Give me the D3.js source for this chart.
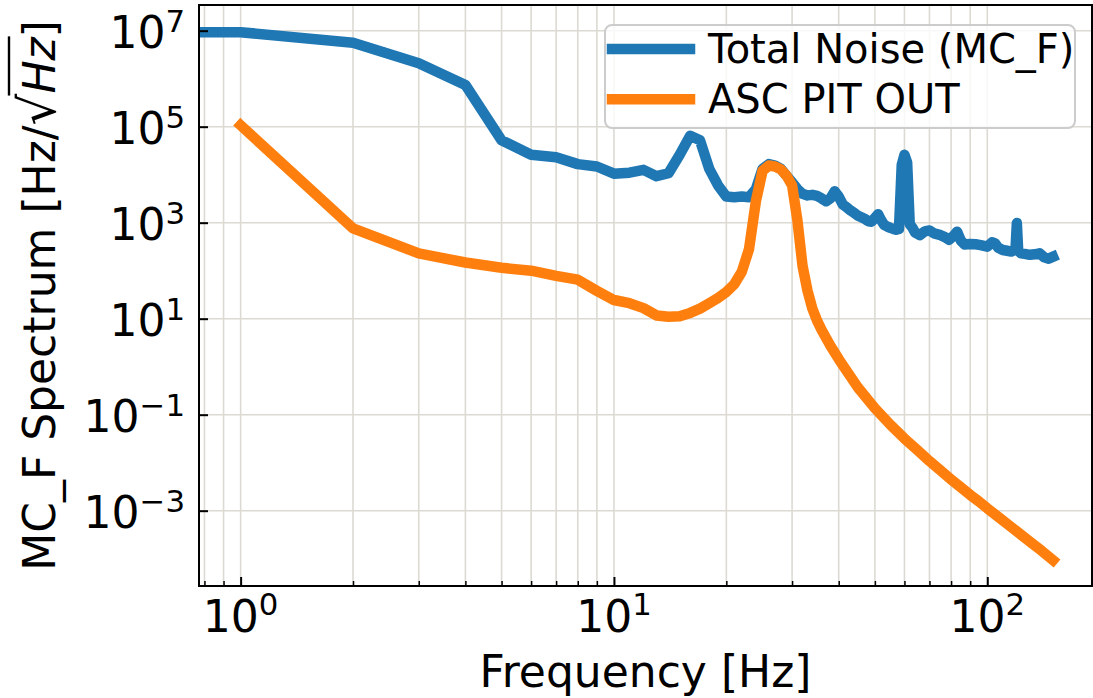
<!DOCTYPE html>
<html>
<head>
<meta charset="utf-8">
<script src="https://cdn.jsdelivr.net/npm/d3@7"></script>
<style>
    body { margin: 0; background: #fff; }
    text { font-family: "DejaVu Sans", sans-serif; fill: #000; }
</style>
</head>
<body>
<div id="container"></div>
<script>
// ---------------------------------------------------------------------
// Data
const noiseFreq = [0.5, 1, 2, 3, 4, 5, 6, 7, 8, 9, 10, 11, 12, 13, 14, 15, 16, 17, 18, 19,
    20, 21, 22, 23, 24, 25, 26, 27, 28, 29, 30, 31, 32, 33, 34, 35, 36, 37, 38, 39,
    40, 41, 42, 43, 44, 45, 46, 47, 48, 49, 50, 51, 52, 53, 54, 55, 56, 57, 58, 59,
    60, 61, 62, 63, 64, 66, 68, 70, 72, 75, 77, 79, 81, 83, 85, 87, 90, 93, 96, 100,
    103, 105, 107, 110, 113, 116, 119, 120, 121, 123, 126, 130, 134, 138, 142, 146, 150];
const noiseAmp = [9.3e6, 9.3e6, 5.6e6, 2.1e6, 7.4e5, 5.2e4, 2.6e4, 2.3e4, 1.66e4, 1.48e4,
    1.05e4, 1.1e4, 1.26e4, 9.3e3, 1.07e4, 2.6e4, 6.5e4, 5.2e4, 1.32e4, 6.0e3,
    3.5e3, 3.4e3, 3.5e3, 3.4e3, 5.0e3, 1.32e4, 1.66e4, 1.55e4, 1.32e4, 9.5e3,
    6.9e3, 5.0e3, 4.0e3, 3.7e3, 3.8e3, 3.6e3, 3.2e3, 2.8e3, 3.2e3, 4.5e3,
    3.5e3, 2.4e3, 2.1e3, 1.8e3, 1.6e3, 1.4e3, 1.3e3, 1.2e3, 1.07e3, 1.05e3,
    1.26e3, 1.5e3, 1.12e3, 890, 830, 780, 740, 710, 740, 1.6e4,
    2.6e4, 1.8e4, 930, 790, 630, 550, 660, 690, 600, 550, 500, 440, 520, 650, 420, 350,
    360, 355, 340, 316, 390, 370, 300, 270, 260, 250, 275, 980, 260, 230, 224, 214,
    219, 230, 190, 178, 195];

const ascFreq = [1, 2, 3, 4, 5, 6, 7, 8, 9, 10, 11, 12, 13, 14, 15, 16, 17, 18, 19, 20,
    21, 22, 23, 24, 25, 26, 27, 28, 29, 30, 31, 32, 33, 34, 35, 36, 38, 40, 42, 45,
    50, 55, 60, 65, 70, 75, 80, 85, 90, 95, 100, 110, 120, 130, 140, 150];
const ascAmp = [1.07e5, 760, 230, 148, 115, 100, 78, 65, 38, 24.5, 21, 16.6, 11.7, 11, 11.2,
    13.2, 16.2, 21, 27, 36, 52, 95, 280, 2.8e3, 1.2e4, 1.55e4, 1.48e4, 1.29e4, 9.5e3, 6.0e3,
    1.12e3, 126, 38, 16.2, 9.1, 5.8, 2.73, 1.44, 0.82, 0.37,
    0.136, 0.0617, 0.0318, 0.0182, 0.0108, 0.00685, 0.00448, 0.00305, 0.00213, 0.00156,
    0.00112, 6.27e-4, 3.69e-4, 2.26e-4, 1.45e-4, 9.3e-5];

const seriesNames = ["Total Noise (MC_F)", "ASC PIT OUT"];
const seriesColors = ["#1f77b4", "#ff7f0e"];
const xTicks = [1, 10, 100];
const yTicks = [1e-3, 1e-1, 1e1, 1e3, 1e5, 1e7];
const xLabel = "Frequency [Hz]";

// ---------------------------------------------------------------------
// Chart
const width = 1093;
const height = 698;
const marginTop = 5;
const marginRight = 1;
const marginBottom = 112;
const marginLeft = 199;

// Declare the log scales (limits as in the picture).
const x = d3.scaleLog()
    .domain([Math.pow(10, -0.1115), Math.pow(10, 2.2805)])
    .range([marginLeft, width - marginRight]);
const y = d3.scaleLog()
    .domain([Math.pow(10, -4.569), Math.pow(10, 7.535)])
    .range([height - marginBottom, marginTop]);

const svg = d3.create("svg")
    .attr("width", width)
    .attr("height", height)
    .attr("viewBox", `0 0 ${width} ${height}`);

svg.append("defs").append("clipPath")
    .attr("id", "plotClip")
    .append("rect")
    .attr("x", marginLeft)
    .attr("y", marginTop)
    .attr("width", width - marginLeft - marginRight)
    .attr("height", height - marginTop - marginBottom);

// Grid: vertical on every x tick (major+minor), horizontal on labelled y ticks.
const xAll = x.ticks();
const xMinor = xAll.filter(d => !xTicks.includes(d));
const gridColor = "#dcdad2";

svg.append("g")
    .selectAll("line")
    .data(xAll)
    .join("line")
    .attr("x1", d => x(d)).attr("x2", d => x(d))
    .attr("y1", marginTop).attr("y2", height - marginBottom)
    .attr("stroke", gridColor)
    .attr("stroke-width", 1.6);

svg.append("g")
    .selectAll("line")
    .data(yTicks)
    .join("line")
    .attr("x1", marginLeft).attr("x2", width - marginRight)
    .attr("y1", d => y(d)).attr("y2", d => y(d))
    .attr("stroke", gridColor)
    .attr("stroke-width", 1.6);

// Series lines
const line = d3.line()
    .x(d => x(d[0]))
    .y(d => y(d[1]));

const series = [
    d3.zip(noiseFreq, noiseAmp),
    d3.zip(ascFreq, ascAmp),
];

svg.append("g")
    .attr("clip-path", "url(#plotClip)")
    .selectAll("path")
    .data(series)
    .join("path")
    .attr("fill", "none")
    .attr("stroke", (d, i) => seriesColors[i])
    .attr("stroke-width", 10.5)
    .attr("stroke-linejoin", "round")
    .attr("stroke-linecap", "square")
    .attr("d", line);

// Axes box
svg.append("rect")
    .attr("x", marginLeft)
    .attr("y", marginTop)
    .attr("width", width - marginLeft - marginRight)
    .attr("height", height - marginTop - marginBottom)
    .attr("fill", "none")
    .attr("stroke", "#000")
    .attr("stroke-width", 2);

// Ticks (pointing inwards)
const xAxis = svg.append("g")
    .attr("transform", `translate(0,${height - marginBottom})`)
    .call(d3.axisBottom(x).tickValues(xTicks).tickSize(-9).tickFormat(""));
const xAxisMinor = svg.append("g")
    .attr("transform", `translate(0,${height - marginBottom})`)
    .call(d3.axisBottom(x).tickValues(xMinor).tickSize(-5).tickFormat(""));
const yAxis = svg.append("g")
    .attr("transform", `translate(${marginLeft},0)`)
    .call(d3.axisLeft(y).tickValues(yTicks).tickSize(-9).tickFormat(""));

[xAxis, xAxisMinor, yAxis].forEach(g => {
    g.select(".domain").remove();
    g.selectAll(".tick line").attr("stroke", "#000").attr("stroke-width", 2);
});
xAxisMinor.selectAll(".tick line").attr("stroke-width", 1.5);

// Power-of-ten tick labels
const exponent = d => {
    const e = Math.round(Math.log10(d));
    return e < 0 ? "\u2212" + (-e) : String(e);
};
const tickFont = 44;

function powerLabel(sel) {
    sel.append("tspan").text("10");
    sel.append("tspan")
        .attr("font-size", tickFont * 0.7)
        .attr("dy", -16.6)
        .text(d => exponent(d));
}

svg.append("g")
    .selectAll("text")
    .data(xTicks)
    .join("text")
    .attr("x", d => x(d))
    .attr("y", 631.7)
    .attr("text-anchor", "middle")
    .attr("font-size", tickFont)
    .call(powerLabel);

svg.append("g")
    .selectAll("text")
    .data(yTicks)
    .join("text")
    .attr("x", marginLeft - 14)
    .attr("y", d => y(d) + 17.5)
    .attr("text-anchor", "end")
    .attr("font-size", tickFont)
    .call(powerLabel);

// Axis labels
svg.append("text")
    .attr("x", (marginLeft + width - marginRight) / 2)
    .attr("y", 687)
    .attr("text-anchor", "middle")
    .attr("font-size", 44)
    .text(xLabel);

const yLabelG = svg.append("g")
    .attr("transform", `translate(55,${(marginTop + height - marginBottom) / 2}) rotate(-90)`);
const yLabel = yLabelG.append("text")
    .attr("text-anchor", "middle")
    .attr("font-size", 44);
yLabel.append("tspan").text("MC_F Spectrum [Hz/");
yLabel.append("tspan").attr("font-size", 50).text("\u221A");
yLabel.append("tspan").attr("font-style", "italic").text("Hz");
yLabel.append("tspan").text("]");

// Legend
const legend = svg.append("g");
legend.append("rect")
    .attr("x", 605).attr("y", 25)
    .attr("width", 470).attr("height", 103)
    .attr("rx", 7)
    .attr("fill", "#fff").attr("fill-opacity", 0.8)
    .attr("stroke", "#cccccc").attr("stroke-width", 2);

const rows = legend.selectAll("g.row")
    .data(seriesNames)
    .join("g")
    .attr("class", "row")
    .attr("transform", (d, i) => `translate(0,${49 + i * 50.3})`);
rows.append("line")
    .attr("x1", 612).attr("x2", 690)
    .attr("stroke", (d, i) => seriesColors[i])
    .attr("stroke-width", 10.5)
    .attr("stroke-linecap", "square");
rows.append("text")
    .attr("x", 708)
    .attr("y", 13.5)
    .attr("font-size", 40)
    .text(d => d);

document.getElementById("container").append(svg.node());

// Overline of the square root in the y label (needs the rendered glyph boxes)
const labelNode = yLabel.node();
const rad = labelNode.getExtentOfChar(18);
const zEnd = labelNode.getExtentOfChar(20);
yLabelG.append("line")
    .attr("x1", rad.x + rad.width - 2)
    .attr("x2", zEnd.x + zEnd.width + 1)
    .attr("y1", -46).attr("y2", -46)
    .attr("stroke", "#000")
    .attr("stroke-width", 2.4);
</script>
</body>
</html>
